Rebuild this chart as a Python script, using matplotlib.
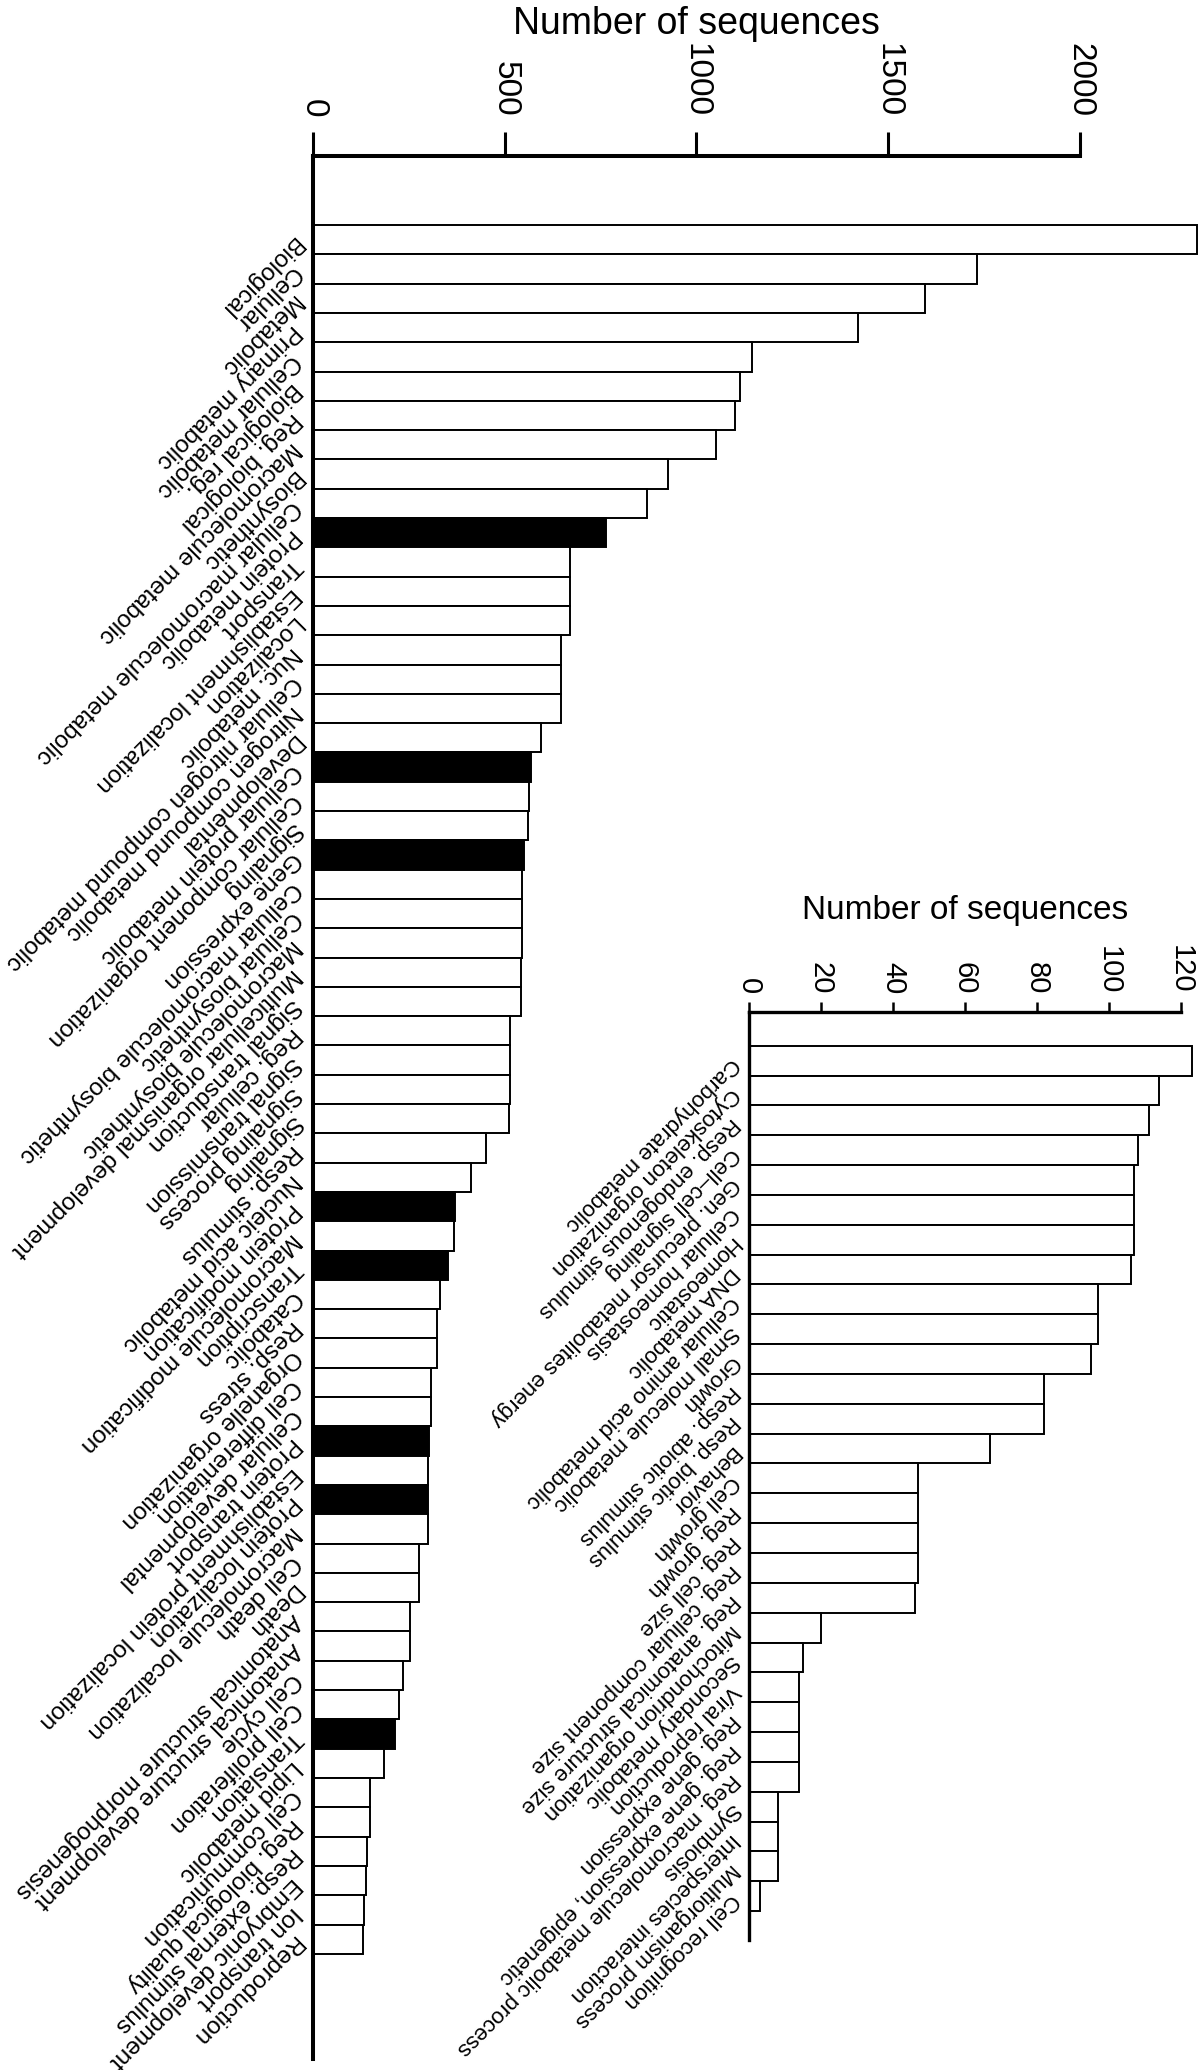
import numpy as np
import matplotlib.pyplot as plt

plt.rcParams['font.family'] = ['Liberation Sans', 'DejaVu Sans']

# main panel
big_labels = [
    "Biological", "Cellular", "Metabolic", "Primary metabolic", "Cellular metabolic",
    "Biological reg.", "Reg. biological", "Macromolecule metabolic", "Biosynthetic",
    "Cellular macromolecule metabolic", "Protein metabolic", "Transport",
    "Establishment localization", "Localization", "Nuc. metabolic",
    "Cellular nitrogen compound metabolic", "Nitrogen compound metabolic", "Developmental",
    "Cellular protein metabolic", "Cellular component organization", "Signaling",
    "Gene expression", "Cellular macromolecule biosynthetic", "Cellular biosynthetic",
    "Macromolecule biosynthetic", "Multicellular organismal development",
    "Signal transduction", "Reg. cellular", "Signal transmission", "Signaling process",
    "Signaling", "Resp. stimulus", "Nucleic acid metabolic", "Protein modification",
    "Macromolecule modification", "Transcription", "Catabolic", "Resp. stress",
    "Organelle organization", "Cell differentiation", "Cellular developmental",
    "Protein transport", "Establishment protein localization", "Protein localization",
    "Macromolecule localization", "Cell death", "Death",
    "Anatomical structure morphogenesis", "Anatomical structure development",
    "Cell cycle", "Cell proliferation", "Translation", "Lipid metabolic",
    "Cell communication", "Reg. biological quality", "Resp. external stimulus",
    "Embryonic development", "Ion transport", "Reproduction",
]
big_values = [
    2307, 1732, 1597, 1422, 1146, 1115, 1102, 1050, 926, 871,
    765, 670, 670, 670, 646, 646, 646, 595, 569, 563,
    562, 551, 544, 544, 544, 542, 542, 514, 514, 514,
    512, 451, 412, 371, 368, 351, 331, 324, 324, 307,
    307, 303, 299, 301, 301, 277, 277, 252, 252, 234,
    224, 214, 186, 148, 148, 140, 137, 132, 130,
]
big_dark = ["Protein metabolic", "Cellular protein metabolic", "Gene expression",
            "Protein modification", "Transcription", "Protein transport",
            "Protein localization", "Translation"]

# inset panel
small_labels = [
    "Carbohydrate metabolic", "Cytoskeleton organization", "Resp. endogenous stimulus",
    "Cell\u2013cell signaling", "Gen. precursor metabolites energy", "Cellular homeostasis",
    "Homeostatic", "DNA metabolic", "Cellular amino acid metabolic",
    "Small molecule metabolic", "Growth", "Resp. abiotic stimulus", "Resp. biotic stimulus",
    "Behavior", "Cell growth", "Reg. growth", "Reg. cell size",
    "Reg. cellular component size", "Reg. anatomical structure size",
    "Mitochondrion organization", "Secondary metabolic", "Viral reproduction",
    "Reg. gene expression", "Reg. gene expression, epigenetic",
    "Reg. macromolecule metabolic process", "Symbiosis", "Interspecies interaction",
    "Multiorganism process", "Cell recognition",
]
small_values = [123, 114, 111, 108, 107, 107, 107, 106, 97, 97, 95, 82, 82, 67,
                47, 47, 47, 47, 46, 20, 15, 14, 14, 14, 14, 8, 8, 8, 3]
small_dark = []

big_ticks = [0, 500, 1000, 1500, 2000]
small_ticks = [0, 20, 40, 60, 80, 100, 120]

W, H = 1200, 2070
fig = plt.figure(figsize=(W / 100, H / 100), dpi=100)


def px_axes(left, top, right, bottom):
    return fig.add_axes([left / W, 1 - bottom / H, (right - left) / W, (bottom - top) / H])


def panel(ax, labels, values, dark, ticks, xmax, ylim, spine_w, tick_len, tick_w,
          tick_fs, tick_pad, lab_fs, lab_pad):
    pos = np.arange(1, len(labels) + 1)
    colors = ['black' if l in dark else 'white' for l in labels]
    ax.barh(pos, values, height=1.0, color=colors, edgecolor='black', linewidth=1.4)
    ax.set_xlim(0, xmax)
    ax.set_ylim(*ylim)
    ax.xaxis.tick_top()
    ax.set_xticks(ticks)
    ax.set_xticklabels([str(t) for t in ticks], rotation=-90, fontsize=tick_fs)
    ax.tick_params(axis='x', direction='out', length=tick_len, width=tick_w, pad=tick_pad)
    ax.set_yticks(pos)
    ax.set_yticklabels(labels, rotation=225, rotation_mode='anchor',
                       ha='left', va='center', fontsize=lab_fs)
    ax.tick_params(axis='y', length=0, pad=lab_pad)
    for s in ['right', 'bottom']:
        ax.spines[s].set_visible(False)
    ax.spines['top'].set_linewidth(spine_w)
    ax.spines['left'].set_linewidth(spine_w)
    ax.spines['top'].set_bounds(0, ticks[-1])
    ax.spines['top'].set_capstyle('projecting')
    ax.patch.set_alpha(0)


ax1 = px_axes(313, 156, 1200, 2059)
panel(ax1, big_labels, big_values, big_dark, big_ticks,
      (1200 - 313) / 0.38335, (63.09, -1.855),
      spine_w=2.9, tick_len=17, tick_w=2.2, tick_fs=24, tick_pad=11,
      lab_fs=17.5, lab_pad=12)
fig.text(696 / W, 1 - 24 / H, "Number of sequences", ha='center', va='center', fontsize=27)

ax2 = px_axes(749, 1012, 1200, 1940)
panel(ax2, small_labels, small_values, small_dark, small_ticks,
      (1200 - 749) / 3.6, (30.47, -0.63),
      spine_w=2.4, tick_len=7, tick_w=1.8, tick_fs=21, tick_pad=6,
      lab_fs=16, lab_pad=10)
fig.text(965 / W, 1 - 911 / H, "Number of sequences", ha='center', va='center', fontsize=24)

fig.savefig("out.png", dpi=100, facecolor='white')
